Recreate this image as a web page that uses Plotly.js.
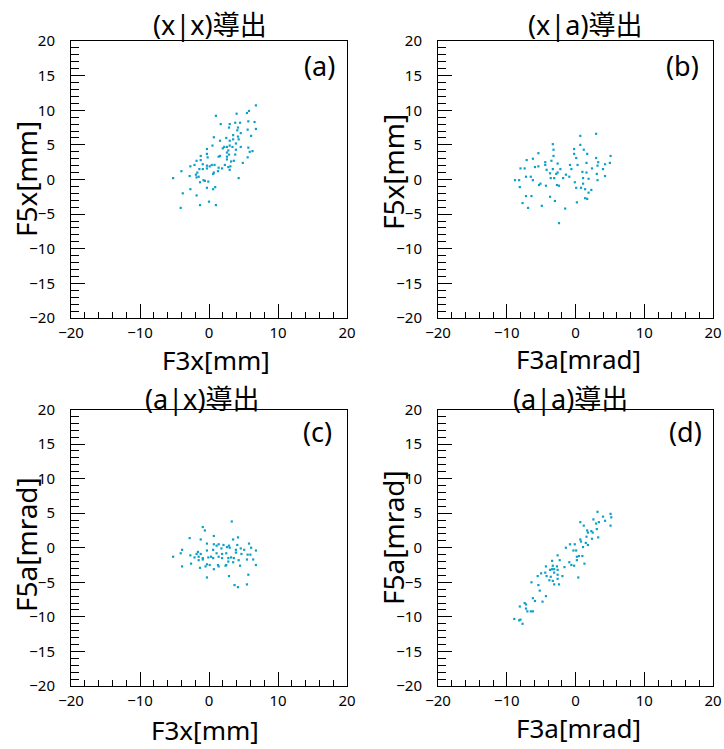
<!DOCTYPE html>
<html>
<head>
<meta charset="utf-8">
<script src="https://cdn.plot.ly/plotly-3.0.1.min.js"></script>
<style>html,body{margin:0;padding:0;background:#fff;}#chart{width:724px;height:749px;}</style>
</head>
<body>
<div id="chart"></div>
<script>
// ---- data ----
const panelTitles = ["(x|x)導出", "(x|a)導出", "(a|x)導出", "(a|a)導出"];
const panelTags = ["(a)", "(b)", "(c)", "(d)"];
const xTitles = ["F3x[mm]", "F3a[mrad]", "F3x[mm]", "F3a[mrad]"];
const yTitles = ["F5x[mm]", "F5x[mm]", "F5a[mrad]", "F5a[mrad]"];

const aX = [6.8,5.8,5.5,4.0,1.0,4.5,3.8,3.0,1.7,5.7,6.6,2.9,4.2,5.6,6.8,4.1,4.6,6.1,3.5,0.7,2.5,4.2,1.6,3.0,3.5,4.3,3.9,0.5,2.2,2.6,3.0,3.4,4.6,5.7,2.0,-0.3,2.8,3.9,5.9,6.3,2.6,-0.3,3.8,2.9,-1.2,1.4,1.6,2.6,5.6,-0.2,-1.2,-1.8,2.6,3.2,4.9,3.6,-2.1,-2.7,-0.9,-0.3,0.4,0.8,0.1,2.3,2.8,3.1,1.4,1.9,3.0,-1.4,-0.9,-0.3,-4.0,-1.7,0.7,1.3,0.6,-2.8,-1.9,-1.5,-5.2,-1.8,4.3,-0.8,-0.6,-0.1,-1.3,0.9,0.6,-0.3,-2.7,-3.8,-1.8,0.0,-1.3,1.0,-4.1];
const aY = [10.7,9.9,9.6,9.5,9.2,8.2,8.2,8.0,8.0,8.4,8.3,7.5,7.5,7.2,7.3,7.1,6.7,6.3,6.4,6.1,6.0,6.2,5.6,5.6,5.8,5.8,5.2,4.9,4.7,4.7,4.9,4.7,4.7,4.6,4.5,4.4,4.2,4.3,4.0,4.1,3.9,3.7,3.6,3.6,3.4,3.3,3.4,3.3,3.2,3.2,2.8,2.7,2.9,2.6,2.4,2.7,2.1,1.9,2.2,2.0,2.1,2.1,1.9,2.1,1.8,1.9,1.7,1.6,1.4,1.5,1.5,1.6,1.2,1.0,1.0,1.2,0.8,0.5,0.7,0.4,0.2,0.3,0.2,-0.1,-0.2,-0.3,-0.4,-1.1,-1.4,-1.2,-1.4,-2.0,-2.3,-3.2,-3.7,-3.7,-4.1];

const bX = [3.0,0.7,-3.3,0.7,-0.2,1.2,-3.2,-5.4,-0.2,1.7,-3.2,5.1,-6.2,0.1,3.0,-7.1,-3.5,-4.4,-2.6,-0.8,0.3,1.6,3.3,4.3,5.0,3.2,-5.9,-5.4,-4.4,-8.0,-7.4,-4.2,-3.3,-2.2,-0.6,2.4,4.0,1.0,-3.7,-2.8,-2.6,1.6,3.1,-1.4,-0.9,4.3,-7.2,-6.5,-3.6,-3.1,-1.8,1.1,1.9,-8.8,-8.2,-6.2,3.2,-0.1,1.1,-5.1,-5.3,-4.3,-2.7,-2.4,-8.1,0.1,0.8,1.4,2.3,1.9,-7.2,-6.4,-3.7,1.4,1.7,-3.0,0.2,-7.7,-4.9,-6.9,-1.5,-2.4];
const bY = [6.6,6.3,5.1,5.0,4.4,4.3,4.3,3.8,3.7,3.7,3.4,3.4,3.0,3.1,3.1,2.8,2.7,2.5,2.3,2.1,2.1,2.4,2.5,2.2,2.4,2.0,1.8,1.9,2.1,1.6,1.6,1.4,1.5,1.5,1.5,1.6,1.5,1.1,0.9,0.8,1.0,1.0,0.8,0.7,0.4,0.5,0.4,0.4,0.2,0.2,0.2,0.2,0.1,-0.1,-0.1,-0.1,-0.1,-0.4,-0.6,-0.6,-0.8,-0.9,-0.8,-0.9,-1.1,-1.2,-1.2,-1.4,-1.5,-1.9,-2.4,-2.4,-2.5,-2.7,-2.8,-3.1,-3.3,-3.4,-3.8,-4.1,-4.2,-6.3];

const cX = [3.3,-0.9,-0.6,0.7,-2.8,-1.2,3.5,4.2,-0.3,0.7,1.4,2.1,2.9,5.8,1.1,4.1,-3.9,-1.6,-0.3,0.6,1.8,2.6,3.0,3.9,4.6,5.1,6.1,6.8,-4.1,-1.8,-1.2,1.1,1.9,2.5,3.9,4.7,5.6,6.0,-5.2,-2.7,-2.1,-1.5,-0.9,-0.1,0.3,0.6,1.4,1.9,2.8,3.2,3.6,4.3,5.5,6.4,-1.5,-0.9,2.8,3.5,-2.6,-0.3,0.1,1.3,2.4,4.5,6.8,-3.9,-1.3,-0.5,0.7,1.4,2.5,-0.3,5.7,2.9,3.7,4.2,5.5];
const cY = [3.8,3.0,2.5,1.7,1.4,1.2,1.2,1.5,0.6,0.5,0.5,0.4,0.3,0.6,0.3,0.4,-0.3,-0.6,-0.4,-0.3,-0.1,0.1,0.0,-0.3,-0.1,-0.3,0.0,-0.4,-0.8,-0.9,-0.9,-0.8,-0.9,-0.8,-0.7,-0.9,-1.0,-1.0,-1.3,-1.1,-1.4,-1.3,-1.5,-1.4,-1.3,-1.5,-1.3,-1.5,-1.5,-1.4,-1.5,-1.8,-1.7,-1.7,-1.8,-1.7,-2.0,-2.1,-2.3,-2.4,-2.5,-2.5,-2.6,-2.6,-2.5,-2.7,-2.9,-2.7,-3.1,-2.7,-2.5,-4.3,-3.9,-4.1,-5.4,-5.7,-5.3];

const dX = [3.2,5.1,4.0,5.2,2.6,4.3,3.4,0.7,3.0,1.2,5.1,3.1,1.7,2.3,1.8,2.5,1.6,2.4,3.3,0.7,0.8,1.5,1.8,1.1,-0.8,-0.1,-1.4,-0.3,0.1,-2.6,0.2,0.5,1.0,0.2,-3.4,-2.3,-0.9,-0.6,-0.2,1.3,-4.3,-3.3,-2.7,-1.6,-3.4,-3.1,-3.7,-2.6,-5.0,-4.4,-3.1,-2.6,-1.9,-4.2,-5.5,-3.6,-2.6,-3.8,-3.3,-3.1,-2.4,0.4,-6.4,-5.4,-5.2,-4.3,-6.2,-5.9,-4.8,-7.4,-7.2,-8.1,-7.2,-7.0,-6.5,-6.2,-8.9,-8.2,-8.0,-7.7];
const dY = [5.2,4.9,4.5,4.4,4.1,3.9,3.7,3.7,3.5,3.2,3.2,2.7,2.5,2.4,2.2,2.2,1.6,1.3,1.5,1.2,0.9,0.7,0.4,0.1,0.5,0.5,0.0,-0.4,-0.4,-1.1,-1.3,-1.2,-1.2,-1.8,-1.9,-1.8,-2.1,-2.5,-2.6,-2.3,-2.7,-2.6,-2.7,-2.8,-3.1,-3.1,-3.2,-3.2,-3.7,-3.6,-3.6,-3.9,-4.1,-4.1,-4.1,-4.2,-4.5,-4.7,-4.8,-5.3,-5.3,-4.3,-5.0,-5.4,-6.2,-7.0,-7.3,-7.7,-7.8,-8.0,-8.2,-8.5,-8.8,-9.2,-9.2,-9.2,-10.3,-10.5,-10.4,-11.0];

const axisRange = [-20, 20];

// ---- layout geometry (pixels) ----
const W = 724, H = 749;
const FONT = "Noto Sans, Noto Sans CJK JP, DejaVu Sans, sans-serif";
const px = v => v / W;
const py = v => 1 - v / H;
const cols = [[71, 347], [438, 713]];
const rows = [[41, 318], [409.5, 686]];
const panels = [
  {col:0,row:0,x:aX,y:aY},
  {col:1,row:0,x:bX,y:bY},
  {col:0,row:1,x:cX,y:cY},
  {col:1,row:1,x:dX,y:dY}
];
// text positions (pixel centres)
const titlePos = [[210,24],[585,24],[203,398],[570,398]];
const tagPos = [[319,65],[682,65],[317,431],[685,431]];
const xTitlePos = [[216,359.5],[578,359],[205,730],[578,728]];
const yTitlePos = [[26,179],[393,172],[26,545],[393,538]];

const traces = [];
const layout = {
  width: W, height: H, autosize: false,
  margin: {l:0, r:0, t:0, b:0, pad:0},
  paper_bgcolor: '#fff', plot_bgcolor: '#fff',
  showlegend: false,
  font: {family: FONT, color: '#000'},
  annotations: []
};

panels.forEach((p, i) => {
  const n = i + 1;
  const xa = 'xaxis' + (n === 1 ? '' : n), ya = 'yaxis' + (n === 1 ? '' : n);
  const xr = 'x' + (n === 1 ? '' : n), yr = 'y' + (n === 1 ? '' : n);
  traces.push({
    type: 'scatter', mode: 'markers', x: p.x, y: p.y, xaxis: xr, yaxis: yr,
    marker: {symbol: 'square', size: 2.2, color: '#0aa0c8', line: {width: 0}},
    hoverinfo: 'skip'
  });
  const common = {
    range: axisRange, showgrid: false, zeroline: false,
    showline: true, linecolor: '#000', linewidth: 1, mirror: true,
    ticks: 'inside', tickcolor: '#000', tickwidth: 1,
    tickfont: {family: FONT, size: 15, color: '#000'},
    tick0: 0, fixedrange: true
  };
  layout[xa] = Object.assign({}, common, {
    domain: [px(cols[p.col][0]), px(cols[p.col][1])],
    anchor: yr, dtick: 10, ticklen: 14, ticklabelstandoff: 1,
    minor: {dtick: 2, ticklen: 6, ticks: 'inside', tickcolor: '#000', tickwidth: 1, showgrid: false}
  });
  layout[ya] = Object.assign({}, common, {
    domain: [py(rows[p.row][1]), py(rows[p.row][0])],
    anchor: xr, dtick: 5, ticklen: 14, ticklabelstandoff: 12,
    minor: {dtick: 1, ticklen: 8, ticks: 'inside', tickcolor: '#000', tickwidth: 1, showgrid: false}
  });
  const ann = (txt, pos, size, extra) => Object.assign({
    text: txt, xref: 'paper', yref: 'paper', x: px(pos[0]), y: py(pos[1]),
    xanchor: 'center', yanchor: 'middle', showarrow: false,
    font: {family: FONT, size: size, color: '#000'}
  }, extra || {});
  layout.annotations.push(ann(panelTitles[i], titlePos[i], 27));
  layout.annotations.push(ann(panelTags[i], tagPos[i], 27));
  layout.annotations.push(ann(xTitles[i], xTitlePos[i], 26));
  layout.annotations.push(ann(yTitles[i], yTitlePos[i], 28, {textangle: -90}));
});

Plotly.newPlot('chart', traces, layout, {staticPlot: true, displayModeBar: false});
</script>
</body>
</html>
